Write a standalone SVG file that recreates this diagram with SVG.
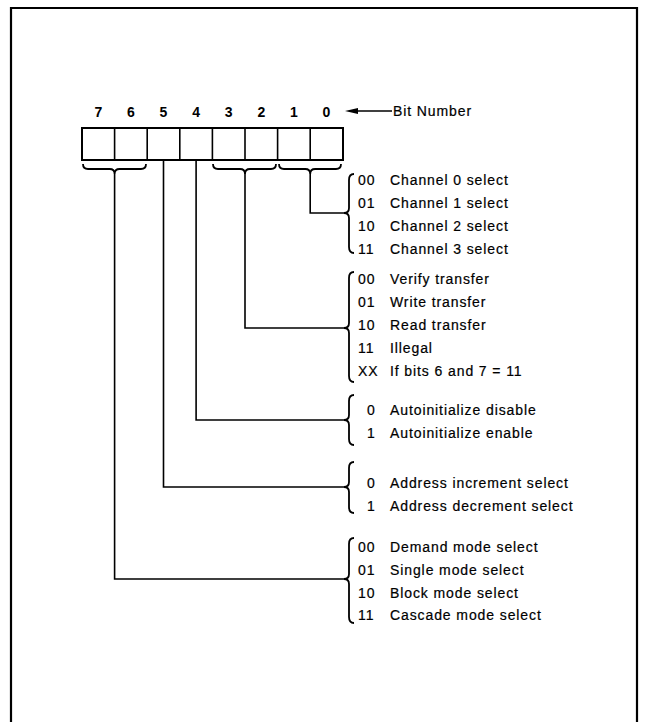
<svg xmlns="http://www.w3.org/2000/svg" width="646" height="722" viewBox="0 0 646 722">
<style>
text{font-family:"Liberation Sans",Arial,sans-serif;font-size:14px;fill:#000;stroke:#000;stroke-width:0.2px;letter-spacing:0.9px}
.bit{text-anchor:middle;letter-spacing:0;font-weight:bold;stroke-width:0}
.ln{fill:none;stroke:#000;stroke-width:1.6}
.br{fill:none;stroke:#000;stroke-width:1.8}
.box{fill:#fff;stroke:#000;stroke-width:2}
</style>
<rect width="646" height="722" fill="#fff"/>
<path d="M11,722 V8 H637 V722" fill="none" stroke="#000" stroke-width="2.2"/>

<g id="register">
<rect class="box" x="82" y="128" width="261" height="32"/>
<path class="ln" stroke-width="2" d="M114.6,128V160M147.2,128V160M179.8,128V160M212.4,128V160M245,128V160M277.6,128V160M310.2,128V160"/>
<text class="bit" x="98.3" y="116.5">7</text>
<text class="bit" x="130.9" y="116.5">6</text>
<text class="bit" x="163.5" y="116.5">5</text>
<text class="bit" x="196.1" y="116.5">4</text>
<text class="bit" x="228.7" y="116.5">3</text>
<text class="bit" x="261.3" y="116.5">2</text>
<text class="bit" x="293.9" y="116.5">1</text>
<text class="bit" x="326.5" y="116.5">0</text>
</g>

<g id="bitnumber">
<path d="M345,111 L358,108 L358,114 Z" fill="#000"/>
<line class="ln" x1="356" y1="111" x2="392" y2="111"/>
<text x="393" y="116">Bit Number</text>
</g>

<g id="bit-braces">
<path class="br" d="M83,164 Q83,169 88,169 L109.6,169 Q114.6,169 114.6,174 Q114.6,169 119.6,169 L141,169 Q146,169 146,164"/>
<path class="br" d="M213,164 Q213,169 218,169 L240,169 Q245,169 245,174 Q245,169 250,169 L271,169 Q276,169 276,164"/>
<path class="br" d="M279,164 Q279,169 284,169 L305.2,169 Q310.2,169 310.2,174 Q310.2,169 315.2,169 L336,169 Q341,169 341,164"/>
</g>

<g id="connectors">
<path class="ln" d="M310.2,174 V213 H345"/>
<path class="ln" d="M245,174 V328 H345"/>
<path class="ln" d="M196.1,160 V420 H345"/>
<path class="ln" d="M163.5,160 V487 H345"/>
<path class="ln" d="M114.6,174 V579 H345"/>
</g>

<g id="channel">
<path class="br" d="M354,174 Q349,174 349,180 L349,208 Q349,213 344,213 Q349,213 349,218 L349,247 Q349,253 354,253"/>
<text x="358" y="185">00</text><text x="390" y="185">Channel 0 select</text>
<text x="358" y="208">01</text><text x="390" y="208">Channel 1 select</text>
<text x="358" y="231">10</text><text x="390" y="231">Channel 2 select</text>
<text x="358" y="254">11</text><text x="390" y="254">Channel 3 select</text>
</g>

<g id="transfer">
<path class="br" d="M354,272 Q349,272 349,278 L349,323 Q349,328 344,328 Q349,328 349,333 L349,376 Q349,382 354,382"/>
<text x="358" y="284">00</text><text x="390" y="284">Verify transfer</text>
<text x="358" y="307">01</text><text x="390" y="307">Write transfer</text>
<text x="358" y="330">10</text><text x="390" y="330">Read transfer</text>
<text x="358" y="353">11</text><text x="390" y="353">Illegal</text>
<text x="358" y="376">XX</text><text x="390" y="376">If bits 6 and 7 = 11</text>
</g>

<g id="autoinit">
<path class="br" d="M354,395 Q349,395 349,401 L349,415 Q349,420 344,420 Q349,420 349,425 L349,439 Q349,445 354,445"/>
<text x="367" y="415">0</text><text x="390" y="415">Autoinitialize disable</text>
<text x="367" y="438">1</text><text x="390" y="438">Autoinitialize enable</text>
</g>

<g id="address">
<path class="br" d="M354,462 Q349,462 349,468 L349,482 Q349,487 344,487 Q349,487 349,492 L349,507 Q349,513 354,513"/>
<text x="367" y="488">0</text><text x="390" y="488">Address increment select</text>
<text x="367" y="511">1</text><text x="390" y="511">Address decrement select</text>
</g>

<g id="mode">
<path class="br" d="M354,538 Q349,538 349,544 L349,574 Q349,579 344,579 Q349,579 349,584 L349,617 Q349,623 354,623"/>
<text x="358" y="552">00</text><text x="390" y="552">Demand mode select</text>
<text x="358" y="575">01</text><text x="390" y="575">Single mode select</text>
<text x="358" y="598">10</text><text x="390" y="598">Block mode select</text>
<text x="358" y="620">11</text><text x="390" y="620">Cascade mode select</text>
</g>
</svg>
